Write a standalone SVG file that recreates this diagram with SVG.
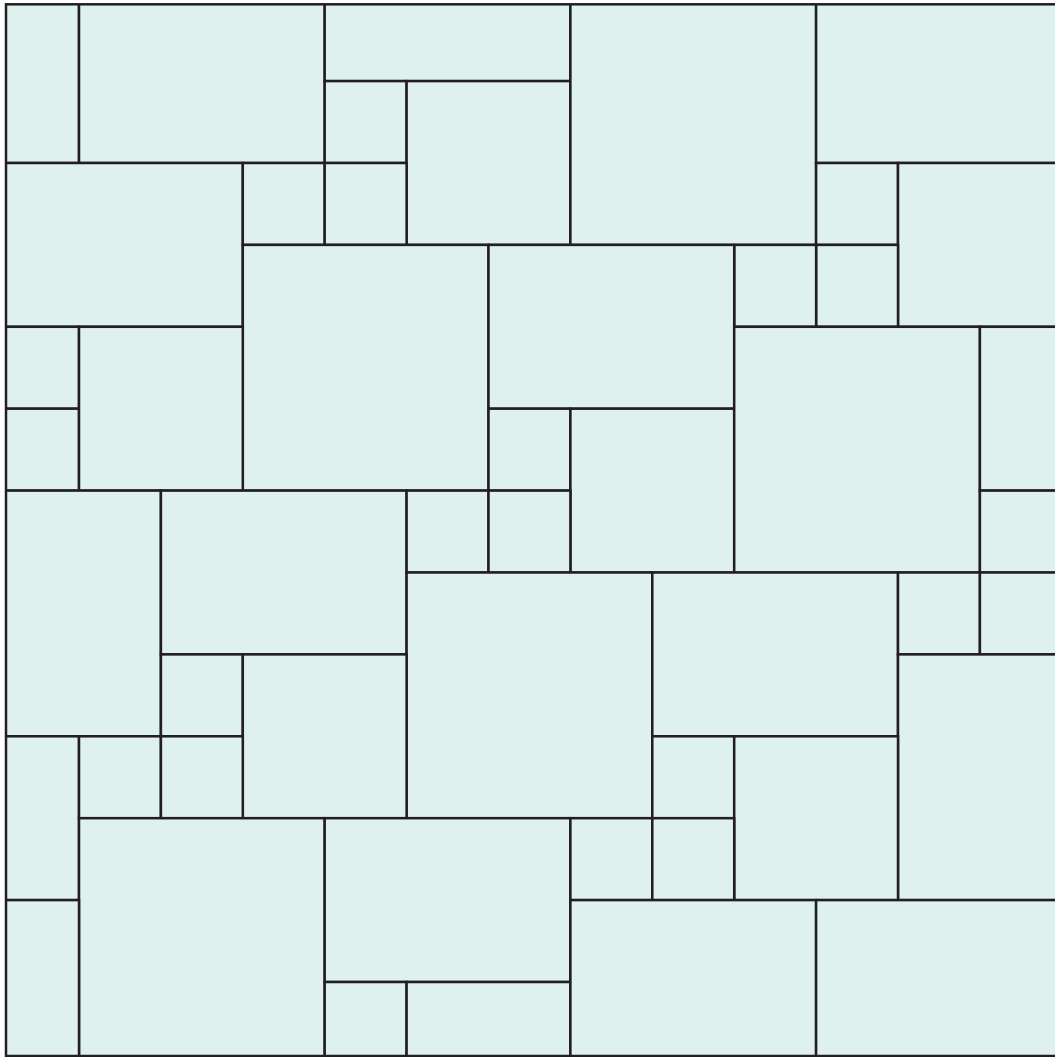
<svg xmlns="http://www.w3.org/2000/svg" width="1055" height="1057" viewBox="0 0 1055 1057">
<style>
.t{fill:#dff1ee;stroke:#231f20;stroke-width:2.5}
.f{fill:none;stroke:#231f20;stroke-width:2.5}
</style>
<defs>
<clipPath id="cp"><rect x="6" y="4.3" width="1100" height="1051.7"/></clipPath>
</defs>
<rect width="1055" height="1057" fill="#ffffff"/>
<g id="tiles" clip-path="url(#cp)">
<rect class="t" x="-84.8" y="-0.8" width="163.8" height="163.8"/>
<rect class="t" x="79" y="-0.8" width="245.7" height="163.8"/>
<rect class="t" x="324.7" y="-82.7" width="245.7" height="163.8"/>
<rect class="t" x="324.7" y="81.1" width="81.9" height="81.9"/>
<rect class="t" x="406.6" y="81.1" width="163.8" height="163.8"/>
<rect class="t" x="570.4" y="-0.8" width="245.7" height="245.7"/>
<rect class="t" x="816.1" y="-0.8" width="245.7" height="163.8"/>
<rect class="t" x="816.1" y="163" width="81.9" height="81.9"/>
<rect class="t" x="898" y="163" width="163.8" height="163.8"/>
<rect class="t" x="816.1" y="244.9" width="81.9" height="81.9"/>
<rect class="t" x="734.2" y="244.9" width="81.9" height="81.9"/>
<rect class="t" x="-2.9" y="163" width="245.7" height="163.8"/>
<rect class="t" x="242.8" y="163" width="81.9" height="81.9"/>
<rect class="t" x="324.7" y="163" width="81.9" height="81.9"/>
<rect class="t" x="242.8" y="244.9" width="245.7" height="245.7"/>
<rect class="t" x="488.5" y="244.9" width="245.7" height="163.8"/>
<rect class="t" x="-2.9" y="326.8" width="81.9" height="81.9"/>
<rect class="t" x="-2.9" y="408.7" width="81.9" height="81.9"/>
<rect class="t" x="79" y="326.8" width="163.8" height="163.8"/>
<rect class="t" x="488.5" y="408.7" width="81.9" height="81.9"/>
<rect class="t" x="570.4" y="408.7" width="163.8" height="163.8"/>
<rect class="t" x="734.2" y="326.8" width="245.7" height="245.7"/>
<rect class="t" x="979.9" y="326.8" width="163.8" height="163.8"/>
<rect class="t" x="979.9" y="490.6" width="81.9" height="81.9"/>
<rect class="t" x="-84.8" y="490.6" width="245.7" height="245.7"/>
<rect class="t" x="160.9" y="490.6" width="245.7" height="163.8"/>
<rect class="t" x="406.6" y="490.6" width="81.9" height="81.9"/>
<rect class="t" x="488.5" y="490.6" width="81.9" height="81.9"/>
<rect class="t" x="406.6" y="572.5" width="245.7" height="245.7"/>
<rect class="t" x="652.3" y="572.5" width="245.7" height="163.8"/>
<rect class="t" x="898" y="572.5" width="81.9" height="81.9"/>
<rect class="t" x="979.9" y="572.5" width="81.9" height="81.9"/>
<rect class="t" x="898" y="654.4" width="245.7" height="245.7"/>
<rect class="t" x="160.9" y="654.4" width="81.9" height="81.9"/>
<rect class="t" x="242.8" y="654.4" width="163.8" height="163.8"/>
<rect class="t" x="-84.8" y="736.3" width="163.8" height="163.8"/>
<rect class="t" x="79" y="736.3" width="81.9" height="81.9"/>
<rect class="t" x="160.9" y="736.3" width="81.9" height="81.9"/>
<rect class="t" x="652.3" y="736.3" width="81.9" height="81.9"/>
<rect class="t" x="734.2" y="736.3" width="163.8" height="163.8"/>
<rect class="t" x="79" y="818.2" width="245.7" height="245.7"/>
<rect class="t" x="324.7" y="818.2" width="245.7" height="163.8"/>
<rect class="t" x="570.4" y="818.2" width="81.9" height="81.9"/>
<rect class="t" x="652.3" y="818.2" width="81.9" height="81.9"/>
<rect class="t" x="-84.8" y="900.1" width="163.8" height="163.8"/>
<rect class="t" x="324.7" y="982" width="81.9" height="81.9"/>
<rect class="t" x="406.6" y="982" width="163.8" height="163.8"/>
<rect class="t" x="570.4" y="900.1" width="245.7" height="163.8"/>
<rect class="t" x="816.1" y="900.1" width="245.7" height="163.8"/>
</g>
<rect id="frame" class="f" x="6" y="4.3" width="1100" height="1051.7"/>
</svg>
